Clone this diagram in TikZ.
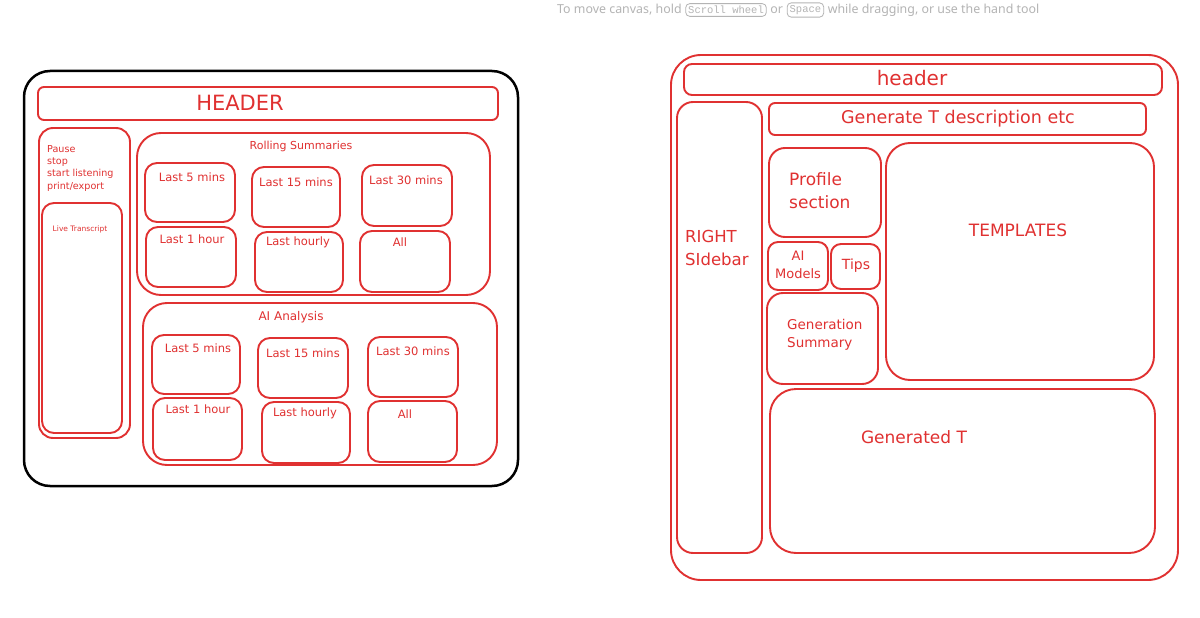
\documentclass[tikz,border=0pt]{standalone}
\usepackage{fontspec}
\setmainfont{DejaVu Sans}
\newfontfamily\hintfont{Noto Sans}
\newfontfamily\keyfont{Liberation Mono}
\usetikzlibrary{fit,positioning}
\definecolor{exred}{HTML}{E03131}
\definecolor{hintgray}{HTML}{B4B4B4}
\tikzset{
  box/.style={draw=exred, line width=1.9pt, rounded corners=#1, inner sep=0pt},
  box/.default=12pt,
  lbl/.style={text=exred, inner sep=0pt},
  hint/.style={text=hintgray, inner sep=0pt, font=\hintfont\fontsize{12.4}{15}\selectfont},
  keycap/.style={draw=hintgray, line width=0.8pt, rounded corners=4pt, text=hintgray,
     inner xsep=2.5pt, inner ysep=2.5pt, font=\keyfont\fontsize{10.5}{12}\selectfont},
}
\newcommand\rbox[6][12pt]{\node[box=#1, fit={(#3,#4) (#5,#6)}] (#2) {};}
\newcommand\fs[1]{\fontsize{#1}{#1}\selectfont}
\begin{document}
\begin{tikzpicture}[x=1pt,y=-1pt]
\useasboundingbox[fill=white] (0,0) rectangle (1200,618);
% hint line
\node[hint, anchor=west] (h1) at (557,10) {To move canvas, hold};
\node[keycap, right=3.5pt of h1] (k1) {Scroll wheel};
\node[hint, right=3.5pt of k1] (h2) {or};
\node[keycap, right=3.5pt of h2] (k2) {Space};
\node[hint, right=3.5pt of k2] (h3) {while dragging, or use the hand tool};

% ===== left diagram =====
\node[box=26pt, draw=black, line width=2.5pt, fit={(24,71) (518,486)}] (Lout) {};
\rbox[6pt]{Lhead}{38}{87}{498}{120}
\rbox[14pt]{Lctrl}{39}{128}{130}{438}
\rbox[12pt]{Ltrans}{42}{203}{122}{433}
\rbox[24pt]{Lroll}{137}{133}{490}{295}
\rbox{Lr1}{145}{163}{235}{222}
\rbox{Lr2}{252}{167}{340}{227}
\rbox{Lr3}{362}{165}{452}{226}
\rbox{Lr4}{146}{227}{236}{287}
\rbox{Lr5}{255}{232}{343}{292}
\rbox{Lr6}{360}{231}{450}{292}
\rbox[24pt]{Lai}{143}{303}{497}{465}
\rbox{La1}{152}{335}{240}{394}
\rbox{La2}{258}{338}{348}{398}
\rbox{La3}{368}{337}{458}{397}
\rbox{La4}{153}{398}{242}{460}
\rbox{La5}{262}{402}{350}{463}
\rbox{La6}{368}{401}{457}{462}

\node[lbl, font=\fs{21}] (tLhead) at (240,103) {HEADER};
\node[lbl, font=\fontsize{9.6}{12.3}\selectfont, align=left, anchor=north west] (tctrl) at (47,145)
  {Pause\\stop\\start listening\\print/export};
\node[lbl, font=\fs{7.5}] (ttrans) at (80,229) {Live Transcript};
\node[lbl, font=\fs{11}] (troll) at (301,146) {Rolling Summaries};
\node[lbl, font=\fs{11.5}] (tr1) at (192,177) {Last 5 mins};
\node[lbl, font=\fs{11.5}] (tr2) at (296,182) {Last 15 mins};
\node[lbl, font=\fs{11.5}] (tr3) at (406,180) {Last 30 mins};
\node[lbl, font=\fs{11.5}] (tr4) at (192,239) {Last 1 hour};
\node[lbl, font=\fs{11.5}] (tr5) at (298,242) {Last hourly};
\node[lbl, font=\fs{11.5}] (tr6) at (400,242) {All};
\node[lbl, font=\fs{12}] (tai) at (291,317) {AI Analysis};
\node[lbl, font=\fs{11.5}] (ta1) at (198,348) {Last 5 mins};
\node[lbl, font=\fs{11.5}] (ta2) at (303,353) {Last 15 mins};
\node[lbl, font=\fs{11.5}] (ta3) at (413,351) {Last 30 mins};
\node[lbl, font=\fs{11.5}] (ta4) at (198,409) {Last 1 hour};
\node[lbl, font=\fs{11.5}] (ta5) at (305,413) {Last hourly};
\node[lbl, font=\fs{11.5}] (ta6) at (405,414) {All};

% ===== right diagram =====
\rbox[30pt]{Rout}{671}{55}{1178}{580}
\rbox[8pt]{Rhead}{684}{64}{1162}{95}
\rbox[16pt]{Rside}{677}{102}{762}{553}
\rbox[6pt]{Rgen}{769}{103}{1146}{135}
\rbox[16pt]{Rprof}{769}{148}{881}{237}
\rbox[24pt]{Rtmpl}{886}{143}{1154}{380}
\rbox[10pt]{Rai}{768}{242}{828}{290}
\rbox[10pt]{Rtips}{831}{244}{880}{289}
\rbox[16pt]{Rsum}{767}{293}{878}{384}
\rbox[26pt]{Rgent}{770}{389}{1155}{553}

\node[lbl, font=\fs{20}] (tRhead) at (912,78) {header};
\node[lbl, font=\fs{17.5}] (tRgen) at (958,119) {Generate T description etc};
\node[lbl, font=\fontsize{17}{23}\selectfont, align=left, anchor=west] (tprof) at (789,191) {Profile\\section};
\node[lbl, font=\fs{17}] (ttmpl) at (1018,230) {TEMPLATES};
\node[lbl, font=\fontsize{16.5}{23}\selectfont, align=left, anchor=west] (tside) at (685,248) {RIGHT\\SIdebar};
\node[lbl, font=\fontsize{13}{18}\selectfont, align=center] (tai2) at (798,265) {AI\\Models};
\node[lbl, font=\fs{14}] (ttips) at (856,266) {Tips};
\node[lbl, font=\fontsize{13.5}{18}\selectfont, align=left, anchor=west] (tsum) at (787,335) {Generation\\Summary};
\node[lbl, font=\fs{17}] (tgent) at (914,437) {Generated T};
\end{tikzpicture}
\end{document}
